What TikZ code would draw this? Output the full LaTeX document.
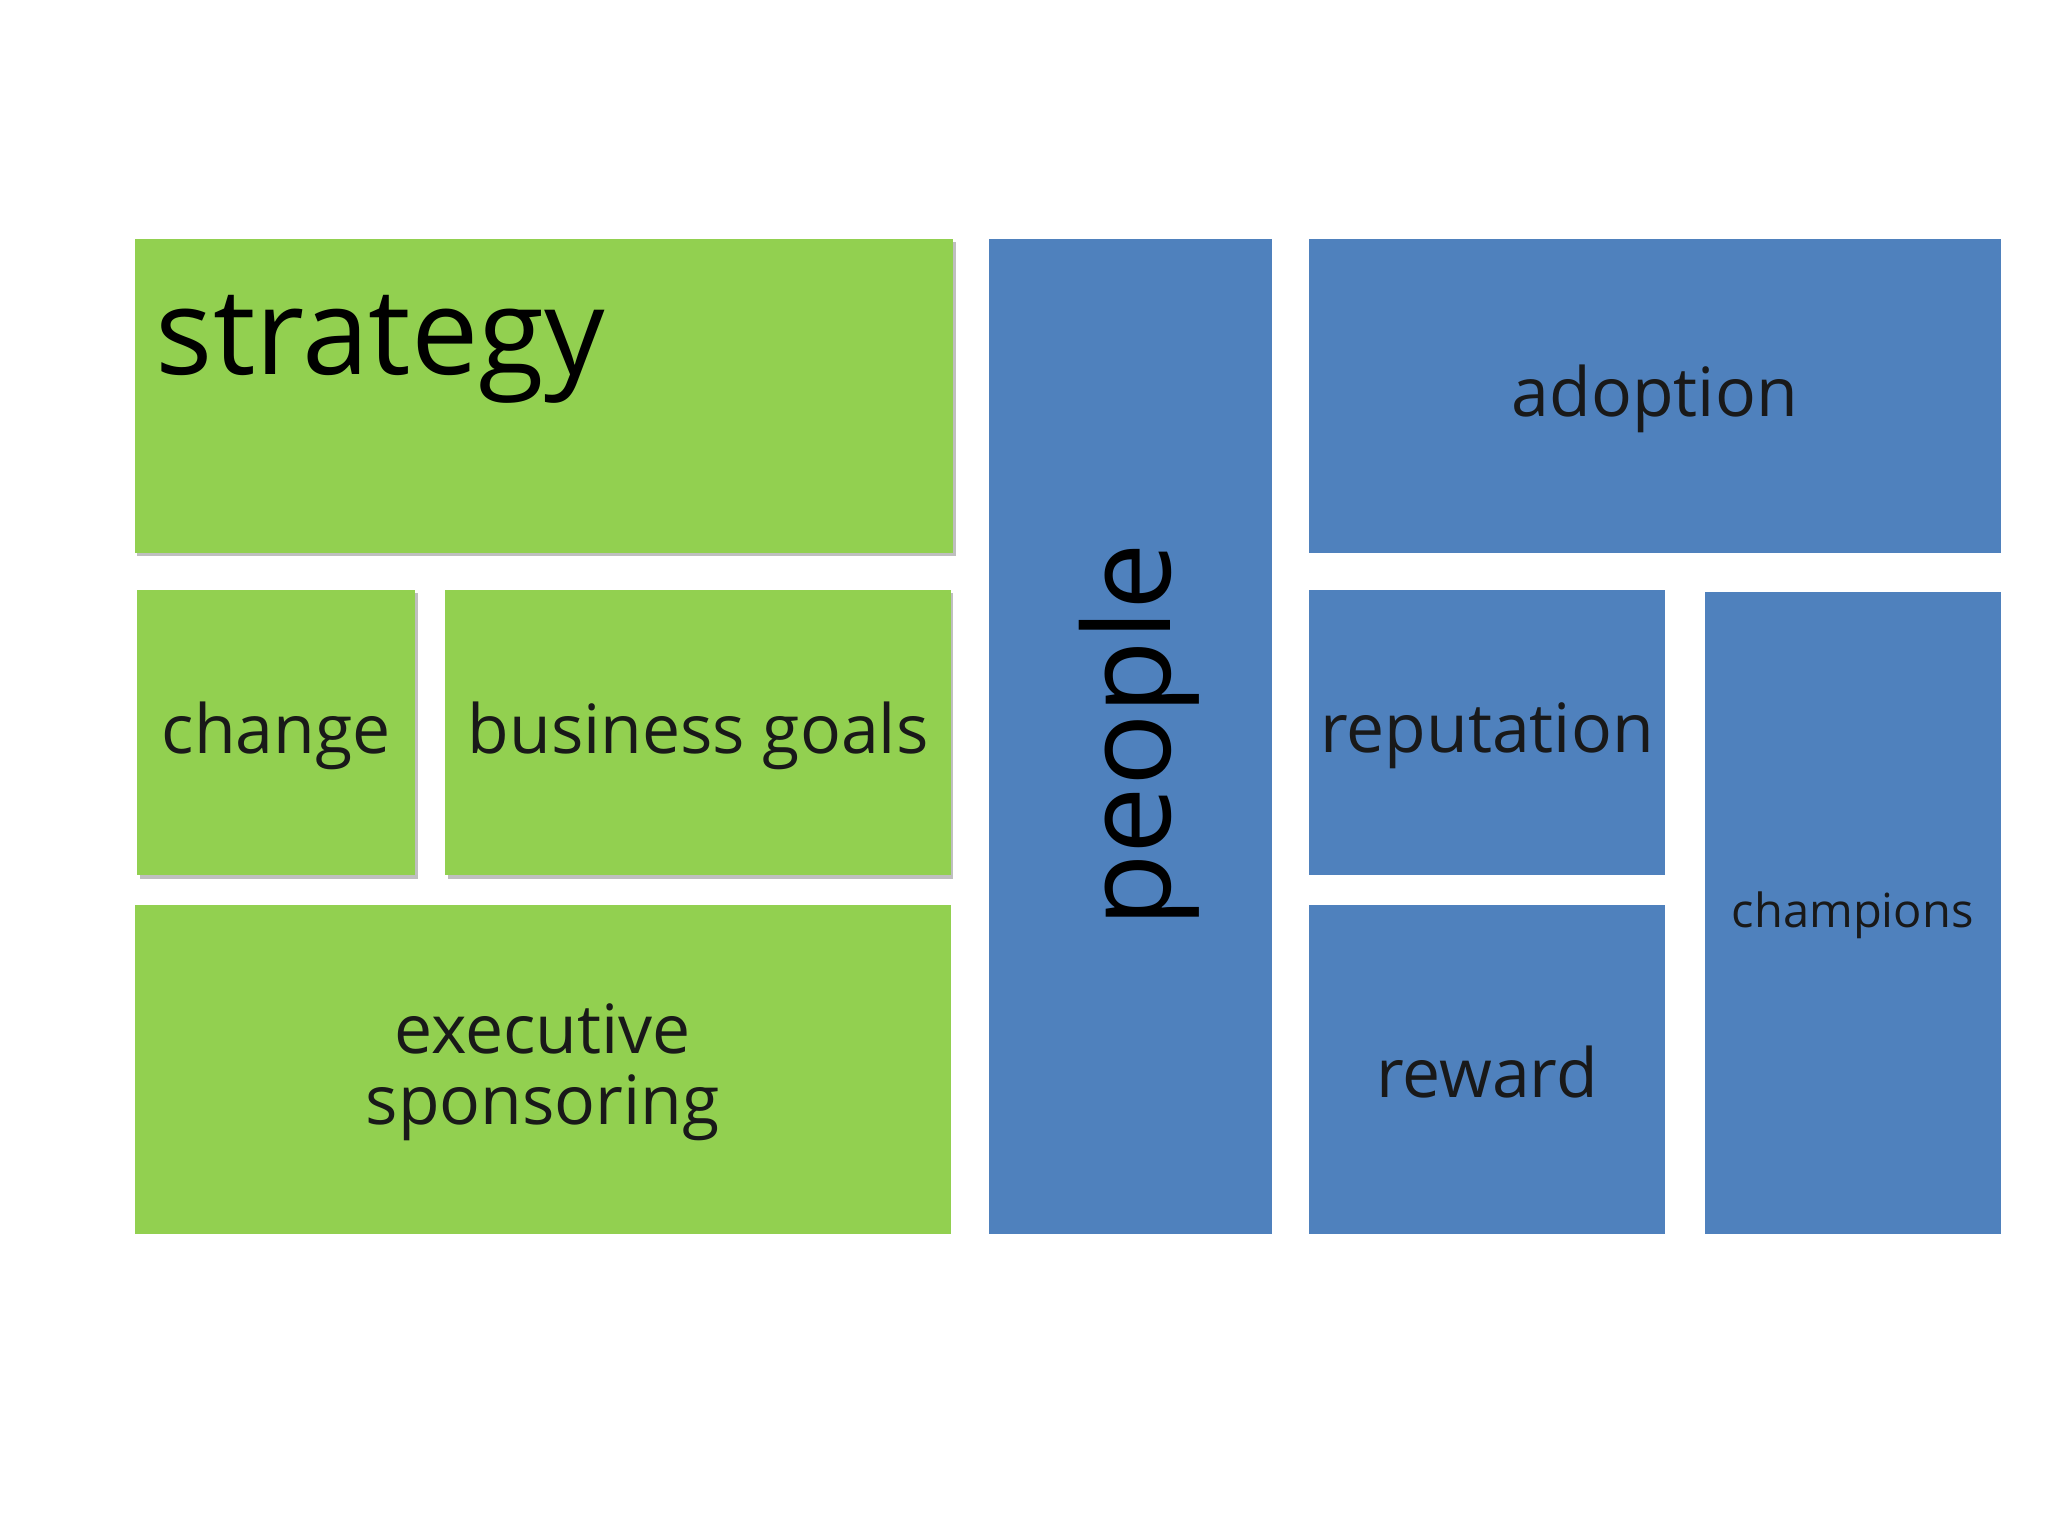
\documentclass[tikz,border=0pt]{standalone}
\usepackage{fontspec}
\setmainfont{Open Sans}
\begin{document}
\begin{tikzpicture}[x=1pt,y=-1pt,
 g/.style={fill={rgb,255:red,146;green,208;blue,80}},
 b/.style={fill={rgb,255:red,79;green,129;blue,189}},
 sh/.style={fill=black!25},
 lbl/.style={font=\fontsize{52}{62}\selectfont, align=center, text=black!90}]
\useasboundingbox (0,0) rectangle (1568,1176);
\fill[white] (0,0) rectangle (1568,1176);
% shadows
\fill[sh] (105,185) rectangle (732,426);
\fill[sh] (107,454) rectangle (320,673);
\fill[sh] (343,454) rectangle (730,673);
% green
\fill[g] (103,183) rectangle (730,423);
\fill[g] (105,452) rectangle (318,670);
\fill[g] (341,452) rectangle (728,670);
\fill[g] (103,693) rectangle (728,945);
% blue
\fill[b] (757,183) rectangle (974,945);
\fill[b] (1002,183) rectangle (1532,423);
\fill[b] (1002,452) rectangle (1275,670);
\fill[b] (1002,693) rectangle (1275,945);
\fill[b] (1305,453) rectangle (1532,945);
% labels
\node[anchor=base west, inner sep=0, font=\fontsize{92}{100}\selectfont] (strategy) at (119,287) {strategy};
\node[lbl] (change) at (211.5,563) {change};
\node[lbl] (bg) at (534.5,563) {business goals};
\node[lbl] (exec) at (415.5,821) {executive\\[-8pt]sponsoring};
\node[rotate=90, font=\fontsize{92}{100}\selectfont] (people) at (872,563) {people};
\node[lbl] (adoption) at (1267,305) {adoption};
\node[lbl] (reputation) at (1138.5,563) {reputation};
\node[lbl] (reward) at (1138.5,821) {reward};
\node[font=\fontsize{36}{44}\selectfont, text=black!90] (champions) at (1418.5,701) {champions};
\end{tikzpicture}
\end{document}
